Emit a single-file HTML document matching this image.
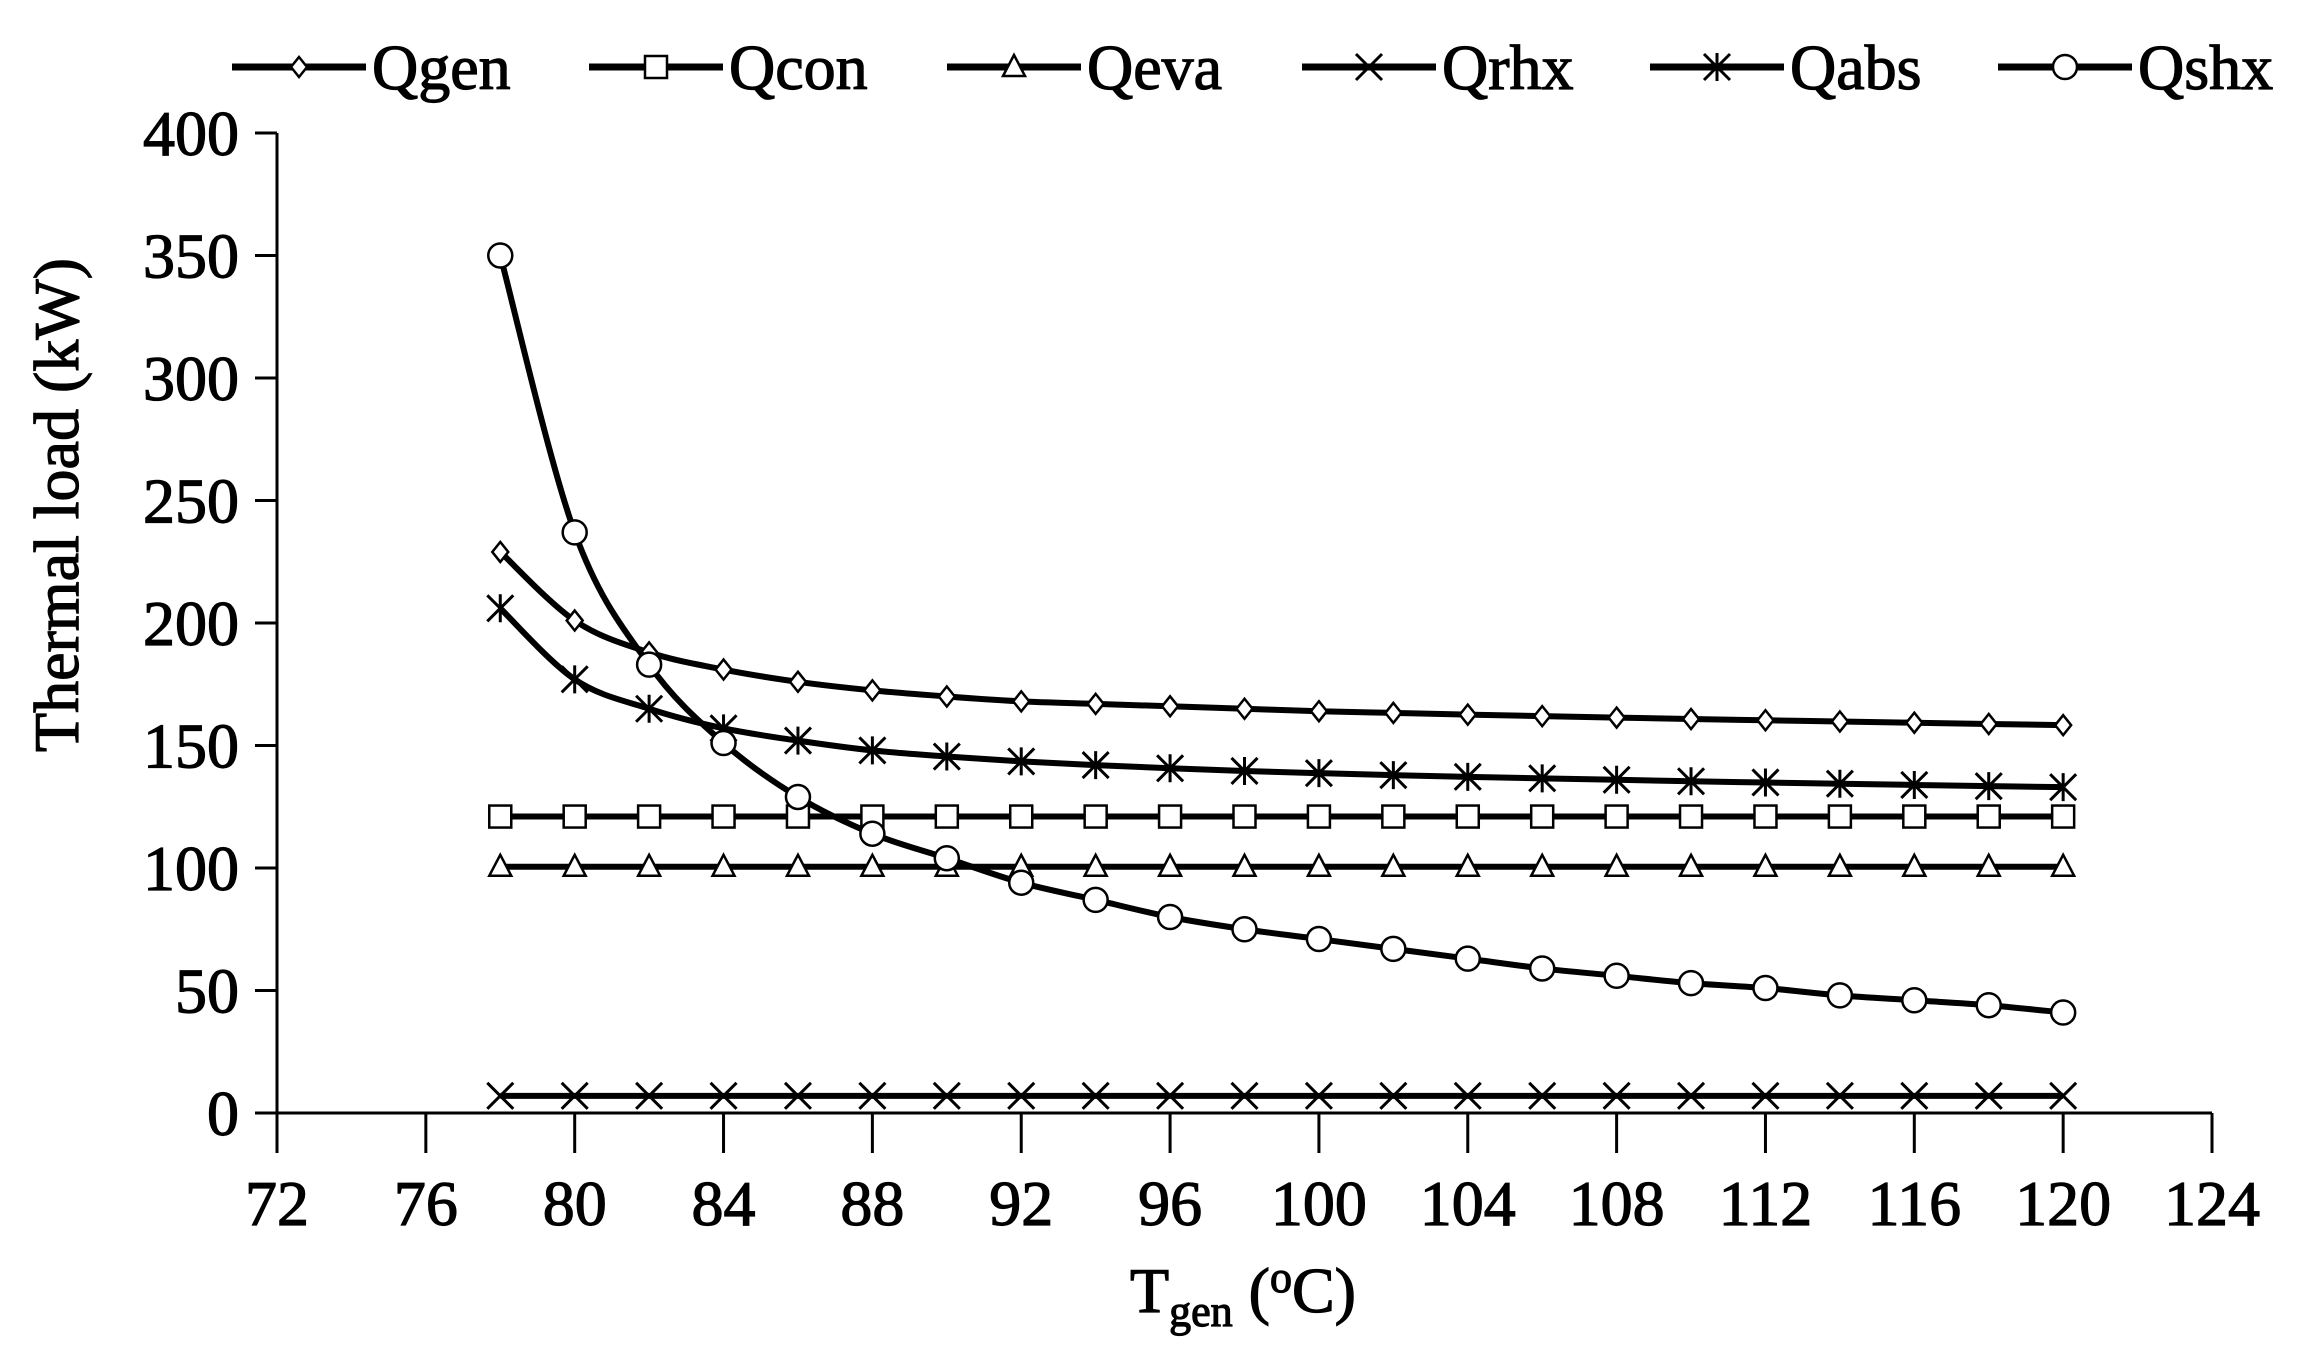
<!DOCTYPE html>
<html><head><meta charset="utf-8"><style>
html,body{margin:0;padding:0;background:#fff;}
svg{display:block;}
text{font-family:"Liberation Serif",serif;fill:#000;stroke:#000;stroke-width:1.2;}
</style></head><body>
<svg id="s" width="2320" height="1371" viewBox="0 0 2320 1371" xmlns="http://www.w3.org/2000/svg"></svg>
<script>
const S=document.getElementById('s');
const NS='http://www.w3.org/2000/svg';
function el(t,a,txt){const e=document.createElementNS(NS,t);for(const k in a)e.setAttribute(k,a[k]);if(txt!==undefined)e.textContent=txt;S.appendChild(e);return e;}
const X0=277,X1=2212,Y0=1113,Y1=133;
const px=v=>X0+(v-72)/52*(X1-X0);
const py=v=>Y0-(v/400)*(Y0-Y1);
el('line',{x1:X0,y1:Y1,x2:X0,y2:Y0+40,stroke:'#000','stroke-width':3});
el('line',{x1:X0-22,y1:Y0,x2:X1,y2:Y0,stroke:'#000','stroke-width':3});
for(let v=0;v<=400;v+=50){const y=py(v);el('line',{x1:X0-22,y1:y,x2:X0,y2:y,stroke:'#000','stroke-width':3});
el('text',{x:X0-38,y:y+22,'font-size':64,'text-anchor':'end'},String(v));}
for(let v=72;v<=124;v+=4){const x=px(v);el('line',{x1:x,y1:Y0,x2:x,y2:Y0+40,stroke:'#000','stroke-width':3});
el('text',{x:x,y:Y0+112,'font-size':64,'text-anchor':'middle'},String(v));}
el('text',{x:0,y:0,'font-size':64,'text-anchor':'middle',transform:'translate(78,505) rotate(-90)'},'Thermal load (kW)');
const tx=el('text',{x:1243,y:1312,'font-size':64,'text-anchor':'middle'});
tx.innerHTML='T<tspan font-size="44" dy="14">gen</tspan><tspan dy="-14"> (</tspan><tspan font-size="44" dy="-20">o</tspan><tspan dy="20">C)</tspan>';
const xs=[];for(let v=78;v<=120;v+=2)xs.push(v);
const D={
gen:[229,201,188,181,176,172.5,170,168,167,166,165,164,163.3,162.6,162,161.4,160.8,160.3,159.8,159.3,158.8,158.3],
con:xs.map(()=>121),eva:xs.map(()=>100.5),rhx:xs.map(()=>7),
abs:[206,177,165,157,152,148,145.5,143.5,142,140.7,139.6,138.7,137.9,137.2,136.6,136,135.4,134.9,134.4,133.9,133.4,133],
shx:[350,237,183,151,129,114,104,94,87,80,75,71,67,63,59,56,53,51,48,46,44,41]};
function path(ys){const p=xs.map((x,i)=>[px(x),py(ys[i])]);let d='M'+p[0].join(',');
for(let i=0;i<p.length-1;i++){const a=p[i-1]||p[i],b=p[i],c=p[i+1],e=p[i+2]||c;
d+=` C${b[0]+(c[0]-a[0])/6},${b[1]+(c[1]-a[1])/6} ${c[0]-(e[0]-b[0])/6},${c[1]-(e[1]-b[1])/6} ${c[0]},${c[1]}`;}return d;}
function marker(type,x,y){const st={stroke:'#000','stroke-width':2.5,fill:'#fff'};
if(type==='gen')el('polygon',Object.assign({points:`${x},${y-10} ${x+8},${y} ${x},${y+10} ${x-8},${y}`},st));
else if(type==='con')el('rect',Object.assign({x:x-11,y:y-11,width:22,height:22},st));
else if(type==='eva')el('polygon',Object.assign({points:`${x},${y-12} ${x+11},${y+9} ${x-11},${y+9}`},st));
else if(type==='rhx'){el('path',{d:`M${x-13},${y-13}L${x+13},${y+13}M${x+13},${y-13}L${x-13},${y+13}`,stroke:'#000','stroke-width':3});}
else if(type==='abs'){el('path',{d:`M${x-13},${y-13}L${x+13},${y+13}M${x+13},${y-13}L${x-13},${y+13}M${x},${y-14}L${x},${y+14}`,stroke:'#000','stroke-width':3});}
else if(type==='shx')el('circle',Object.assign({cx:x,cy:y,r:12},st));}
for(const k of ['rhx','eva','con','abs','gen','shx']){
el('path',{d:path(D[k]),fill:'none',stroke:'#000','stroke-width':6});
xs.forEach((x,i)=>marker(k,px(x),py(D[k][i])));}
const L=[['gen',232,'Qgen'],['con',589,'Qcon'],['eva',947,'Qeva'],['rhx',1302,'Qrhx'],['abs',1650,'Qabs'],['shx',1998,'Qshx']];
for(const [k,x,n] of L){el('line',{x1:x,y1:67,x2:x+134,y2:67,stroke:'#000','stroke-width':7});
marker(k,x+67,67);el('text',{x:x+140,y:89,'font-size':64},n);}
</script>
</body></html>
